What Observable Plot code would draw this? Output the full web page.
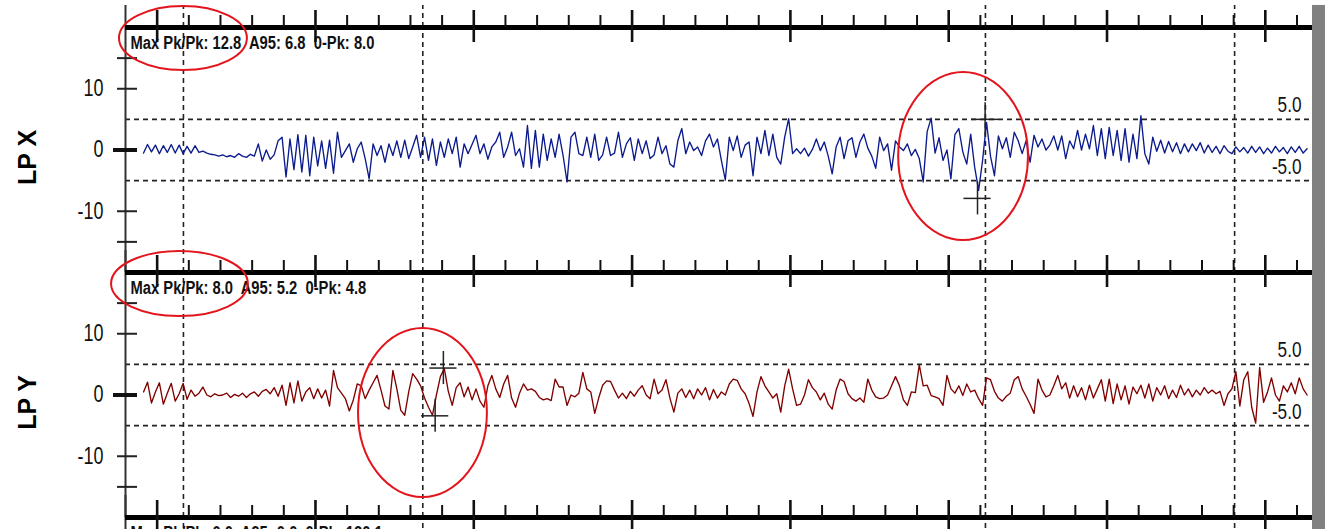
<!DOCTYPE html>
<html><head><meta charset="utf-8">
<script src="https://cdn.jsdelivr.net/npm/d3@7"></script>
<script src="https://cdn.jsdelivr.net/npm/@observablehq/plot@0.6"></script>
<style>
html,body{margin:0;padding:0;background:#fff;}
#wrap{width:1332px;height:529px;overflow:hidden;}
svg text{white-space:pre;}
</style></head><body><div id="wrap"></div>
<script>
// ---- data ----
const panels = ["LP X", "LP Y", "Z"];
const shownPanels = ["LP X", "LP Y"];
const t0 = 0.57, dt = 0.125;   // sampling start and step (s)
const lpX = [
-0.5,0.9,-0.3,0.8,-0.6,0.7,-0.4,0.9,-0.5,0.8,
-0.6,0.6,-0.5,0.7,-0.4,-0.2,-0.5,-0.7,-0.8,-1.0,
-0.8,-1.1,-0.9,-1.2,-0.6,-1.0,-1.2,-0.7,-1.0,1.0,
-1.8,0.0,-1.5,-0.8,1.5,2.1,-4.4,1.8,-3.2,2.5,
-3.6,2.4,-4.2,2.1,-2.6,1.5,-3.0,1.6,-3.8,2.9,
-1.2,-0.1,1.0,-2.0,0.2,1.3,-1.4,-4.7,1.0,-0.9,
0.7,-2.0,1.0,-0.9,1.5,-1.2,1.6,-1.4,0.5,2.4,
-1.2,2.1,-1.7,1.8,-2.5,1.3,-1.2,1.8,-0.6,2.1,
-2.8,1.0,-0.6,0.9,2.4,-0.6,1.0,-1.5,0.5,1.3,
2.9,-1.2,0.5,2.9,-0.9,0.2,-2.8,4.0,-3.0,3.2,
-2.8,2.6,-1.7,1.8,-1.2,2.6,-0.9,-5.2,2.1,2.9,
-0.6,-0.9,2.1,-1.2,2.6,-1.7,-0.8,2.1,-0.9,-0.5,
2.9,-1.2,1.0,2.0,-1.7,1.8,-0.6,1.5,-1.4,-0.8,
2.1,-0.6,0.7,-2.3,-2.8,1.5,3.5,-0.6,1.3,-0.1,
0.5,-0.9,1.5,2.6,0.5,1.8,-1.7,-4.9,2.1,-0.1,
2.3,-1.2,0.8,1.3,-4.2,2.1,-0.6,3.2,-0.9,2.6,
-1.2,-2.3,2.1,5.1,-0.6,0.2,-0.6,0.3,-1.0,0.1,
1.8,-0.1,1.3,-1.0,-3.9,0.5,2.1,-1.4,1.5,2.0,
-1.2,1.3,2.6,0.3,-1.0,-3.0,2.1,-0.1,1.0,-3.3,
1.5,0.5,-0.1,1.0,-0.9,0.1,-1.4,-5.2,3.0,5.2,
-0.5,2.0,-1.7,0.0,-4.7,2.5,3.5,-0.3,-2.3,2.6,
-2.8,-6.6,-1.7,4.5,-1.0,-4.2,2.3,0.2,2.0,-1.2,
2.9,1.5,-0.6,1.5,-2.0,2.4,0.5,1.8,0.0,0.8,
2.3,0.0,2.3,-1.4,1.5,0.2,3.2,0.0,2.6,0.2,
4.0,-0.9,3.5,-1.4,3.7,-0.9,3.2,-1.7,3.5,-2.0,
2.6,-1.4,5.6,-0.6,-2.3,2.1,-0.2,1.6,-0.5,1.4,
-0.3,1.2,-0.6,1.0,-0.3,1.0,-0.1,1.2,-0.5,0.8,
-0.4,0.6,-0.6,0.7,-0.2,-0.6,0.5,-0.3,0.4,-0.5,
0.6,-0.4,0.5,-0.6,0.3,-0.5,0.6,-0.3,0.4,-0.6,
0.5,-0.4,0.6,-0.5,0.2
];
const lpY = [
0.5,2.1,-1.3,0.5,2.0,-1.5,0.3,1.9,-1.0,0.2,
1.9,-0.7,0.8,-0.2,0.3,1.3,0.0,-0.3,0.2,-0.1,
0.0,0.3,-0.4,0.1,-0.2,0.3,-0.4,0.2,0.5,-0.2,
0.6,0.9,0.2,1.2,-0.2,1.6,-1.7,2.0,-1.3,2.3,
-1.0,0.5,1.2,-0.6,1.0,-0.5,0.8,-1.8,4.0,1.2,
0.3,-0.6,-2.6,-0.8,1.8,1.5,-0.6,0.8,2.0,3.2,
0.8,-1.8,-2.3,4.0,1.0,-2.5,-3.3,0.5,3.5,2.6,
1.5,-0.5,-2.0,-3.3,0.0,3.0,4.3,0.6,-1.7,1.2,
2.0,-0.3,1.3,-0.8,1.0,-1.0,-2.0,1.5,3.2,1.0,
-0.4,1.8,3.2,-0.5,-2.0,0.3,1.8,0.8,1.0,0.6,
-0.4,-0.8,-0.6,-0.9,2.6,1.3,1.3,-1.7,0.0,-0.3,
0.3,3.7,1.0,0.5,-3.0,-0.5,1.6,2.3,2.2,0.8,
-0.5,0.3,-0.6,0.6,-0.2,0.8,1.5,0.0,-0.6,2.6,
0.2,0.8,2.5,-0.5,-2.8,0.3,1.0,-0.4,0.8,-0.6,
1.0,0.0,1.2,-0.8,0.9,-0.5,0.5,0.0,1.8,2.6,
2.4,1.0,0.2,-1.4,-3.5,0.5,3.0,1.5,0.5,-0.5,
0.2,-2.8,1.5,4.2,1.0,-1.7,-1.5,0.0,2.5,1.2,
0.5,-0.8,0.3,-1.5,-2.3,0.8,2.6,2.2,0.2,-0.6,
-1.0,-0.5,-1.2,2.6,0.8,-0.3,-0.6,-0.5,0.0,1.5,
3.0,1.5,-0.8,-1.7,0.5,0.4,4.9,1.5,1.6,-0.1,
-0.3,-0.6,-1.7,3.2,1.0,0.3,1.5,-0.1,1.8,0.5,
0.8,-0.6,-1.7,2.8,2.5,0.6,-0.5,-1.0,-0.2,0.3,
2.5,3.0,1.0,-0.2,-1.5,-3.0,2.6,0.8,-0.3,0.0,
1.5,3.2,1.0,2.0,-0.5,1.5,-0.3,1.2,-0.8,1.6,
-0.5,1.0,2.5,-1.0,2.6,-1.4,1.8,-0.8,1.5,-1.5,
1.3,0.2,1.6,-0.5,1.8,-1.0,1.2,0.0,1.5,-0.6,
0.8,-0.4,1.6,0.0,1.0,-0.3,0.8,0.0,1.2,0.3,
0.8,0.2,0.6,-1.7,0.2,1.0,3.8,-1.8,2.5,3.8,
-2.0,-4.6,4.5,-1.2,0.5,2.8,0.0,-1.0,1.5,0.5,
2.0,0.2,2.8,1.0,0.0
];
const statPanels = ["LP X", "LP Y", "Z"];
const statTexts = [
  "Max Pk/Pk: 12.8  A95: 6.8  0-Pk: 8.0",
  "Max Pk/Pk: 8.0  A95: 5.2  0-Pk: 4.8",
  "Max Pk/Pk: 0.0  A95: 0.0  0-Pk: 120.1"
];
const yTicks = [-15, -10, 10, 15];
const yTickLabels = [-10, 0, 10];
const limitValues = [5, -5];
const limitLabels = ["5.0", "-5.0"];
const majorTicks = [1, 6, 11, 16, 21, 26, 31, 36];
const minorTicks = d3.range(2, 38).filter(d => !majorTicks.includes(d));
const eventTimes = [1.83, 9.39, 27.16, 35.03];
const markerPanel = ["LP X", "LP X", "LP Y", "LP Y"];
const markerT = [27.15, 26.91, 10.04, 9.78];
const markerV = [5.0, -7.9, 4.4, -3.4];
const ringPanel = ["LP X", "LP X", "LP Y", "LP Y"];
const ringT1 = [-0.19, 24.42, -0.44, 7.36];
const ringT2 = [3.85, 28.52, 3.88, 11.43];
const ringV1 = [12.98, -14.78, 12.8, -16.73];
const ringV2 = [23.43, 12.65, 23.43, 10.86];

// ---- tables ----
const rowsX = lpX.map((v, i) => ({panel: "LP X", t: t0 + i * dt, v}));
const rowsY = lpY.map((v, i) => ({panel: "LP Y", t: t0 + i * dt, v}));
const stats = statTexts.map((s, i) => ({panel: statPanels[i], s}));
const markers = markerT.map((t, i) => ({panel: markerPanel[i], t, v: markerV[i]}));
const rings = ringPanel.map((p, i) => ({panel: p, x1: ringT1[i], x2: ringT2[i], y1: ringV1[i], y2: ringV2[i]}));
const tickRows = d3.cross(shownPanels, yTicks, (panel, v) => ({panel, v}));
const labelRows = d3.cross(shownPanels, yTickLabels, (panel, v) => ({panel, v}));
const zeroRows = shownPanels.map(panel => ({panel, v: 0}));
const limitRows = d3.cross(shownPanels, limitValues.map((v, i) => ({v, s: limitLabels[i]})), (panel, d) => ({panel, ...d}));

const sans = "'Liberation Sans',Arial,Helvetica,sans-serif";
const TOP = 20, EXT = 23.6;

const chart = Plot.plot({
  width: 1332,
  height: 27 + 245 * 3,
  marginLeft: 125, marginRight: 20, marginTop: 27, marginBottom: 0,
  x: {domain: [0, 37.49], axis: null},
  y: {domain: [-20, 20], axis: null},
  fy: {domain: panels, axis: null, padding: 0},
  style: {background: "white"},
  marks: [
    // grey bar on the right
    Plot.rect([0], {x1: 37.49, x2: 37.9, y1: -20, y2: EXT, fill: "#808080"}),
    // limit lines
    Plot.ruleY(limitValues, {y: d => d, stroke: "#222", strokeWidth: 1.6, strokeDasharray: "5,4"}),
    // event lines
    Plot.ruleX(eventTimes, {x: d => d, y1: -20, y2: TOP, stroke: "#222", strokeWidth: 1.6, strokeDasharray: "5,4"}),
    Plot.ruleX(eventTimes, {x: d => d, y1: TOP, y2: EXT, fy: () => "LP X", stroke: "#222", strokeWidth: 1.6, strokeDasharray: "5,4"}),
    // y axis line
    Plot.ruleX([0], {x: d => d, y1: -20, y2: EXT, stroke: "#333", strokeWidth: 2}),
    // y ticks
    Plot.ruleY(tickRows, {y: "v", fy: "panel", x1: -0.253, x2: 0.379, stroke: "#222", strokeWidth: 2}),
    Plot.ruleY(zeroRows, {y: "v", fy: "panel", x1: -0.379, x2: 0.379, stroke: "#111", strokeWidth: 4}),
    Plot.text(labelRows, {y: "v", fy: "panel", text: d => String(d.v), frameAnchor: "left", dx: -22, textAnchor: "end",
      fontSize: 23, fontFamily: sans, fill: "#111"}),
    // panel top boundary + x ticks
    Plot.ruleY([TOP], {y: d => d, stroke: "#000", strokeWidth: 5}),
    Plot.ruleX(minorTicks, {x: d => d, y1: TOP, y2: TOP + 12 / 6.125, stroke: "#111", strokeWidth: 2}),
    Plot.ruleX(majorTicks, {x: d => d, y1: TOP - 15 / 6.125, y2: TOP + 17 / 6.125, stroke: "#111", strokeWidth: 2.6}),
    // limit labels
    Plot.text(limitRows, {y: "v", fy: "panel", text: "s", frameAnchor: "right", dx: -11, dy: -14, textAnchor: "end",
      fontSize: 22, fontFamily: sans, fill: "#111"}),
    // waveforms
    Plot.line(rowsX, {x: "t", y: "v", fy: "panel", stroke: "#0b1a8c", strokeWidth: 1.35}),
    Plot.line(rowsY, {x: "t", y: "v", fy: "panel", stroke: "#800000", strokeWidth: 1.35}),
    // crosshair markers
    Plot.ruleY(markers, {y: "v", x1: d => d.t - 0.43, x2: d => d.t + 0.43, fy: "panel", stroke: "#222", strokeWidth: 1.5}),
    Plot.ruleX(markers, {x: "t", y1: d => d.v - 2.7, y2: d => d.v + 2.7, fy: "panel", stroke: "#222", strokeWidth: 1.5}),
    // stats text
    Plot.text(stats, {text: "s", fy: "panel", frameAnchor: "top-left", dx: 5, dy: 9, lineAnchor: "top", textAnchor: "start",
      fontSize: 18, fontWeight: "bold", fontFamily: sans, fill: "#111"}),
    // channel labels
    Plot.text(shownPanels, {fy: d => d, text: d => d, y: -1.2, frameAnchor: "left", dx: -97.5, rotate: -90,
      textAnchor: "middle", lineAnchor: "middle", fontSize: 25, fontWeight: "bold", fontFamily: sans, fill: "#000"}),
    // red annotation rings
    Plot.rect(rings, {x1: "x1", x2: "x2", y1: "y1", y2: "y2", fy: "panel", rx: 1000, ry: 1000,
      fill: "none", stroke: "#e3141b", strokeWidth: 2})
  ]
});
document.getElementById("wrap").appendChild(chart);
// condensed look of the original (narrow typeface): squeeze glyphs horizontally
function squeeze(fontSize, k) {
  chart.querySelectorAll(`g[font-size="${fontSize}"] text`).forEach(t => {
    const w = t.getComputedTextLength();
    if (w > 0) { t.setAttribute("textLength", (w * k).toFixed(1)); t.setAttribute("lengthAdjust", "spacingAndGlyphs"); }
  });
}
squeeze(23, 0.78);
squeeze(22, 0.78);
squeeze(18, 0.82);
</script></body></html>
